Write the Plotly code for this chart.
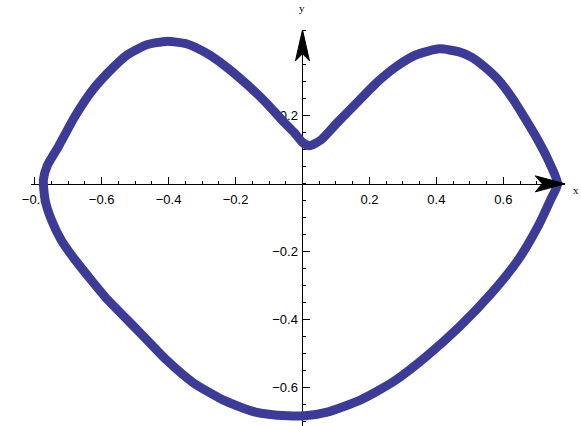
import plotly.graph_objects as go

# closed phase curve (x, y)
x_vals = [0.762, 0.735, 0.703, 0.662, 0.624, 0.585, 0.544, 0.506, 0.468, 0.409,
          0.338, 0.279, 0.221, 0.162, 0.103, 0.055, 0.021, 0.000, -0.024, -0.053,
          -0.112, -0.171, -0.229, -0.288, -0.347, -0.406, -0.465, -0.524, -0.582, -0.631,
          -0.680, -0.729, -0.762, -0.774, -0.769, -0.750, -0.721, -0.679, -0.632, -0.582,
          -0.532, -0.485, -0.406, -0.326, -0.238, -0.141, -0.044, 0.006, 0.074, 0.174,
          0.271, 0.368, 0.468, 0.565, 0.644, 0.703, 0.741, 0.762]
y_vals = [0.000, 0.068, 0.129, 0.197, 0.256, 0.306, 0.344, 0.372, 0.388, 0.397,
          0.379, 0.344, 0.297, 0.238, 0.179, 0.129, 0.112, 0.122, 0.150, 0.179,
          0.242, 0.297, 0.345, 0.385, 0.412, 0.419, 0.409, 0.379, 0.326, 0.271,
          0.198, 0.110, 0.055, 0.012, -0.047, -0.106, -0.165, -0.224, -0.282, -0.341,
          -0.391, -0.438, -0.518, -0.585, -0.635, -0.671, -0.682, -0.682, -0.671, -0.635,
          -0.582, -0.509, -0.421, -0.321, -0.224, -0.126, -0.047, 0.000]

x_ticks = [-0.8, -0.6, -0.4, -0.2, 0.2, 0.4, 0.6]
y_ticks = [-0.6, -0.4, -0.2, 0.2]
x_range = [-0.812, 0.785]
y_range = [-0.712, 0.453]

W, H = 581, 426
font = dict(family="Liberation Sans, Arial, sans-serif", size=13, color="black")


def lbl(v):
    return f"{v:.1f}".replace("-", "\u2212")


fig = go.Figure()
fig.add_trace(go.Scatter(
    x=x_vals, y=y_vals, mode="lines",
    line=dict(color="#3c3c96", width=9, shape="spline", smoothing=0.6),
    hoverinfo="skip", showlegend=False,
))

# Mathematica-like axes crossing at the origin
x_pos = (0 - y_range[0]) / (y_range[1] - y_range[0]) * 0.93
y_pos = 0.0379 + (0 - x_range[0]) / (x_range[1] - x_range[0]) * (0.9725 - 0.0379)

fig.update_xaxes(
    range=x_range, domain=[0.0379, 0.9725], anchor="free", position=x_pos,
    showgrid=False, zeroline=False, showline=True, linecolor="black", linewidth=1,
    tickmode="array", tickvals=x_ticks, ticktext=[lbl(v) for v in x_ticks],
    ticks="inside", ticklen=7, tickcolor="black", tickwidth=1, ticklabelstandoff=4,
    minor=dict(ticks="inside", ticklen=3, dtick=0.05, tick0=0, tickcolor="black"),
    tickfont=font, layer="below traces",
)
fig.update_yaxes(
    range=y_range, domain=[0, 0.93], anchor="free", position=y_pos,
    showgrid=False, zeroline=False, showline=True, linecolor="black", linewidth=1,
    tickmode="array", tickvals=y_ticks, ticktext=[lbl(v) for v in y_ticks],
    ticks="inside", ticklen=7, tickcolor="black", tickwidth=1, ticklabelstandoff=2,
    minor=dict(ticks="inside", ticklen=3, dtick=0.05, tick0=0, tickcolor="black"),
    tickfont=font, layer="below traces",
)

# arrowheads at the ends of the axes
fig.add_shape(type="path", xref="x", yref="y", xsizemode="pixel", ysizemode="pixel",
              xanchor=x_range[1], yanchor=0,
              path="M 0 0 L -30 8 L -23 0 L -30 -8 Z",
              fillcolor="black", line=dict(color="black", width=1), layer="above")
fig.add_shape(type="path", xref="x", yref="y", xsizemode="pixel", ysizemode="pixel",
              xanchor=0, yanchor=y_range[1],
              path="M 0 0 L 7 -31 L 0 -24 L -7 -31 Z",
              fillcolor="black", line=dict(color="black", width=1), layer="above")

fig.add_annotation(text="y", x=0, y=y_range[1], xref="x", yref="y", yshift=22,
                   showarrow=False, font=dict(family="Liberation Serif, serif", size=11,
                                              color="black"))
fig.add_annotation(text="x", x=1, y=0, xref="paper", yref="y", xanchor="right",
                   yshift=-6, showarrow=False,
                   font=dict(family="Liberation Serif, serif", size=11, color="black"))

fig.update_layout(
    width=W, height=H, margin=dict(l=0, r=0, t=0, b=0),
    paper_bgcolor="white", plot_bgcolor="white", showlegend=False,
)

fig.write_html("out.html", config={"displayModeBar": False},
               post_script="document.body.style.margin='0';")
